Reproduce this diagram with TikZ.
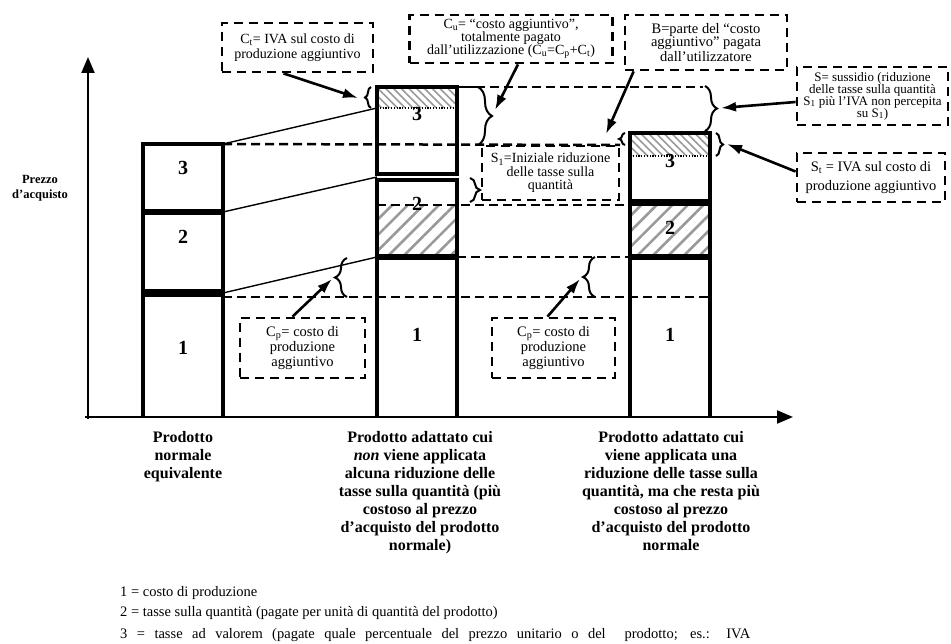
\documentclass[tikz,border=0pt]{standalone}
\usepackage{fontspec}
\setmainfont{Liberation Serif}
\usetikzlibrary{arrows.meta,decorations.pathreplacing,calc,patterns.meta}
\begin{document}
\begin{tikzpicture}[x=1pt,y=-1pt,
  axis/.style={line width=2pt,-{Triangle[length=16pt,width=13pt]}},
  barline/.style={line width=4pt},
  divider/.style={line width=#1},
  guide/.style={line width=2.5pt,dash pattern=on 9pt off 5pt},
  link/.style={line width=1.4pt},
  dots/.style={line width=2pt,dash pattern=on 1.2pt off 1.6pt},
  note/.style={draw,line width=2.8pt,dash pattern=on 9pt off 6pt,align=center,inner sep=0pt,
               font=\fontsize{14}{13}\selectfont},
  pointer/.style={line width=2.6pt,-{Latex[length=15pt,width=10pt]}},
  curly/.style={decorate,decoration={brace,amplitude=#1},line width=2pt},
  hatchwide/.style={pattern={Lines[angle=45,distance=11pt,line width=2.6pt]},pattern color=black!40},
  hatchfine/.style={pattern={Lines[angle=-45,distance=5.5pt,line width=1.6pt]},pattern color=black!40},
  digit/.style={font=\fontsize{20}{20}\selectfont\bfseries},
  caption/.style={align=center,anchor=north,font=\fontsize{16}{18}\selectfont\bfseries},
  legend/.style={anchor=base west,font=\fontsize{14.5}{14.5}\selectfont,inner sep=0pt}
]
\useasboundingbox (0,0) rectangle (951,644);

% ---- hatched parts of the adapted products
\path[hatchfine] (377,87) rectangle (457,108);
\path[hatchwide] (377,205) rectangle (457,257);
\path[hatchfine] (630,133) rectangle (710,156);
\path[hatchwide] (630,203) rectangle (710,257);

% ---- axes
\coordinate (origin) at (88,417);
\coordinate (xend) at (793,417);
\coordinate (yend) at (88,57);
\draw[axis] ($(origin)+(-3,0)$) -- (xend);
\draw[axis] ($(origin)+(0,2)$) -- (yend);
\node[font=\fontsize{12.5}{15.5}\selectfont\bfseries,align=center] (ylab) at (40,188) {Prezzo\\d’acquisto};

% ---- levels of the bars
\coordinate (b1top) at (223,144);
\coordinate (b1mid) at (223,212);
\coordinate (b1low) at (223,293);
\coordinate (b2dot) at (377,108);
\coordinate (b2mid) at (377,177);
\coordinate (b2low) at (377,257);

% ---- dashed reference levels
\draw[guide] (b1top) -- (620,145);
\draw[guide] (462,87) -- (703,87);
\draw[guide] (377,205) -- (630,205);
\draw[guide] (457,257) -- (630,257);
\draw[guide] (223,297) -- (710,297);

% ---- bar 1: normal product
\draw[barline] (143,417) -- (143,144) -- (223,144) -- (223,417);
\draw[divider=6pt] (143,212) -- (223,212);
\draw[divider=8pt] (143,293) -- (223,293);
\node[digit] (n13) at (183,168) {3};
\node[digit] (n12) at (183,237) {2};
\node[digit] (n11) at (183,348) {1};

% ---- bar 2: adapted product, no reduction
\draw[barline] (377,87) rectangle (457,174);
\draw[barline] (377,417) -- (377,180) -- (457,180) -- (457,417);
\draw[divider=6pt] (377,257) -- (457,257);
\draw[dots] (377,108) -- (457,108);
\node[digit] (n23) at (417,114) {3};
\node[digit] (n22) at (417,204) {2};
\node[digit] (n21) at (417,335) {1};

% ---- bar 3: adapted product with reduction
\draw[barline] (630,417) -- (630,133) -- (710,133) -- (710,417);
\draw[divider=7pt] (630,203) -- (710,203);
\draw[divider=6pt] (630,257) -- (710,257);
\draw[dots] (630,156) -- (710,156);
\node[digit] (n33) at (670,161) {3};
\node[digit] (n32) at (670,228) {2};
\node[digit] (n31) at (670,335) {1};

% ---- links between bar 1 and bar 2
\draw[link] (b1top) -- (b2dot);
\draw[link] (b1mid) -- (b2mid);
\draw[link] (b1low) -- (b2low);

% ---- braces
\draw[line width=2pt] (457,87) -- (478,87);
\draw[curly=14] (478,87) -- (478,145);
\draw[curly=10] (470,178) -- (470,202);
\draw[curly=12] (705,86) -- (705,131);
\draw[curly=7] (716,133) -- (716,156);
\draw[curly=6] (625,145) -- (625,133);
\draw[curly=6] (371,108) -- (371,87);
\draw[curly=12] (347,297) -- (347,258);
\draw[curly=12] (595,297) -- (595,257);
\coordinate (cutip) at (495,110);
\coordinate (stip) at (721,108);
\coordinate (sttip) at (727,144);
\coordinate (btip) at (606,134);
\coordinate (cttip) at (358,98);
\coordinate (cpltip) at (332,279);
\coordinate (cprtip) at (580,279);

% ---- notes
\node[note,minimum width=151pt,minimum height=49pt,font=\fontsize{14}{15}\selectfont] (ct) at (297.5,47.5)
  {C\textsubscript{t}= IVA sul costo di\\produzione aggiuntivo};
\node[note,minimum width=203pt,minimum height=48pt] (cu) at (511,39)
  {C\textsubscript{u}= “costo aggiuntivo”,\\totalmente pagato\\dall’utilizzazione (C\textsubscript{u}=C\textsubscript{p}+C\textsubscript{t})};
\node[note,minimum width=162pt,minimum height=55pt,font=\fontsize{14.5}{13}\selectfont] (bb) at (706,42.5)
  {B=parte del “costo\\aggiuntivo” pagata\\dall’utilizzatore};
\node[note,minimum width=151pt,minimum height=58pt,font=\fontsize{13}{12}\selectfont] (ss) at (872.5,96)
  {S= sussidio (riduzione\\delle tasse sulla quantità\\S\textsubscript{1} più l’IVA non percepita\\su S\textsubscript{1})};
\node[note,minimum width=148pt,minimum height=49pt,font=\fontsize{14.5}{19.5}\selectfont] (sst) at (871,177.5)
  {S\textsubscript{t} = IVA sul costo di\\produzione aggiuntivo};
\node[note,minimum width=137pt,minimum height=54pt,font=\fontsize{14}{13.5}\selectfont] (s1) at (550.5,173)
  {S\textsubscript{1}=Iniziale riduzione\\delle tasse sulla\\quantità};
\node[note,minimum width=125pt,minimum height=60pt,font=\fontsize{14.5}{15}\selectfont] (cpl) at (302.5,348)
  {C\textsubscript{p}= costo di\\produzione\\aggiuntivo};
\node[note,minimum width=123pt,minimum height=60pt,font=\fontsize{14.5}{15}\selectfont] (cpr) at (553.5,348)
  {C\textsubscript{p}= costo di\\produzione\\aggiuntivo};

% ---- pointers from notes to braces
\draw[pointer] ($(ct.south)+(-14,0)$) -- (cttip);
\draw[pointer] ($(cu.south)+(7,0)$) -- (cutip);
\draw[pointer] ($(bb.south west)+(10,0)$) -- (btip);
\draw[pointer] ($(ss.west)+(0,6)$) -- (stip);
\draw[pointer] ($(sst.west)+(0,-6)$) -- (sttip);
\draw[pointer] ($(cpl.north)+(-10,0)$) -- (cpltip);
\draw[pointer] ($(cpr.north)+(-6,0)$) -- (cprtip);

% ---- captions under the bars
\node[caption] (cap1) at (183,428) {Prodotto\\normale\\equivalente};
\node[caption] (cap2) at (420,428) {Prodotto adattato cui\\\textit{non} viene applicata\\alcuna riduzione delle\\tasse sulla quantità (più\\costoso al prezzo\\d’acquisto del prodotto\\normale)};
\node[caption] (cap3) at (671,428) {Prodotto adattato cui\\viene applicata una\\riduzione delle tasse sulla\\quantità, ma che resta più\\costoso al prezzo\\d’acquisto del prodotto\\normale};

% ---- legend
\node[legend] (leg1) at (120,596) {1 = costo di produzione};
\node[legend] (leg2) at (120,616) {2 = tasse sulla quantità (pagate per unità di quantità del prodotto)};
\node[legend] (leg3) at (120,638) {\makebox[630pt][s]{3 = tasse ad valorem (pagate quale percentuale del prezzo unitario o del\ \ prodotto; es.: IVA}};
\end{tikzpicture}
\end{document}
